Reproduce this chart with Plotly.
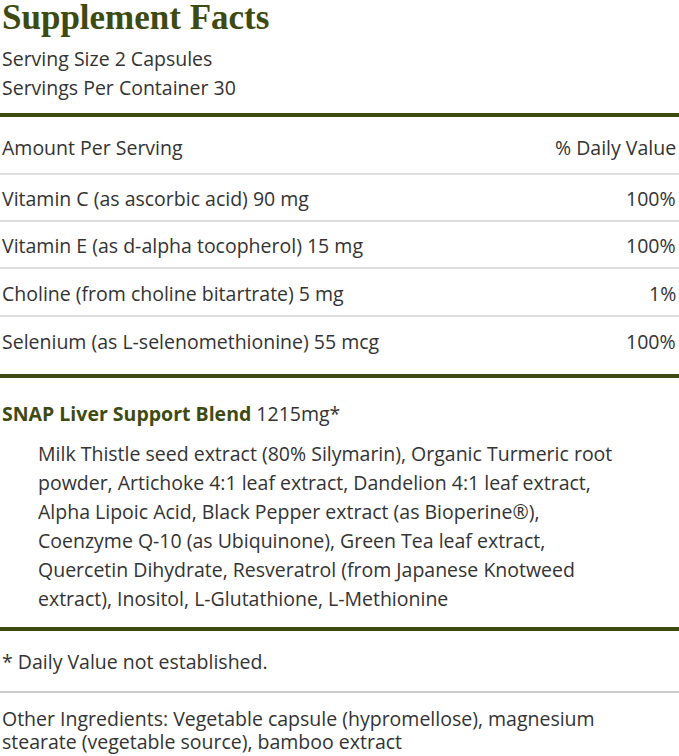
import plotly.graph_objects as go

nutrients = ["Vitamin C (as ascorbic acid) 90 mg", "Vitamin E (as d-alpha tocopherol) 15 mg",
             "Choline (from choline bitartrate) 5 mg", "Selenium (as L-selenomethionine) 55 mcg"]
daily_values = ["100%", "100%", "1%", "100%"]
blend_lines = ["Milk Thistle seed extract (80% Silymarin), Organic Turmeric root",
               "powder, Artichoke 4:1 leaf extract, Dandelion 4:1 leaf extract,",
               "Alpha Lipoic Acid, Black Pepper extract (as Bioperine®),",
               "Coenzyme Q-10 (as Ubiquinone), Green Tea leaf extract,",
               "Quercetin Dihydrate, Resveratrol (from Japanese Knotweed",
               "extract), Inositol, L-Glutathione, L-Methionine"]
other_lines = ["Other Ingredients: Vegetable capsule (hypromellose), magnesium",
               "stearate (vegetable source), bamboo extract"]

GREEN = "#3d4a12"
TXT = "#333333"
F = "Open Sans"
FS = 19.5

fig = go.Figure()
ann = []
def t(x, y, s, anchor="left", size=FS, color=TXT, family=F):
    ann.append(dict(x=x, y=y, text=s, xref="x", yref="y", showarrow=False,
                    xanchor=anchor, yanchor="middle",
                    font=dict(family=family, size=size, color=color)))

shapes = []
def line(y, w, color):
    shapes.append(dict(type="line", x0=0, x1=679, y0=y, y1=y, xref="x", yref="y",
                       line=dict(color=color, width=w)))

t(0, 17, "<b>Supplement Facts</b>", size=35, color=GREEN, family="Liberation Serif")
t(0, 58, "Serving Size 2 Capsules")
t(0, 87, "Servings Per Container 30")
line(115, 4, GREEN)
t(0, 147, "Amount Per Serving")
t(678, 147, "% Daily Value", anchor="right")
line(174, 1, "#bbbbbb")
ys = [198, 245, 293, 341]
for i, (n, d) in enumerate(zip(nutrients, daily_values)):
    t(0, ys[i], n)
    t(678, ys[i], d, anchor="right")
    if i < len(nutrients) - 1:
        line(ys[i] + 23, 1, "#bbbbbb")
line(376, 4, GREEN)
t(0, 413, "<b><span style='color:%s'>SNAP Liver Support Blend</span></b> 1215mg*" % GREEN)
for i, s in enumerate(blend_lines):
    t(36, 453 + 29 * i, s)
line(629, 4, GREEN)
t(0, 661, "* Daily Value not established.")
line(692, 1, "#999999")
for i, s in enumerate(other_lines):
    t(0, 718 + 23.5 * i, s)

fig.update_layout(width=679, height=756, margin=dict(l=0, r=0, t=0, b=0),
                  paper_bgcolor="white", plot_bgcolor="white",
                  xaxis=dict(range=[0, 679], visible=False, fixedrange=True),
                  yaxis=dict(range=[756, 0], visible=False, fixedrange=True),
                  annotations=ann, shapes=shapes, showlegend=False)
fig.write_html("out.html", config={"displayModeBar": False},
               post_script="document.body.style.margin='0';document.body.style.overflow='hidden';")
